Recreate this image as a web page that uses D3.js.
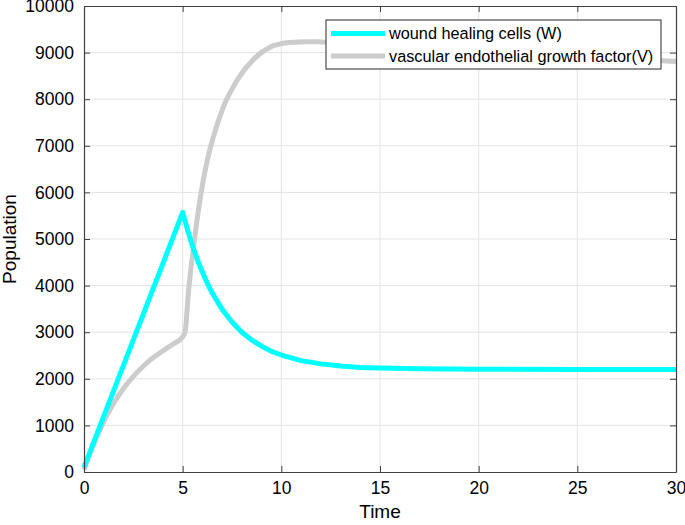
<!DOCTYPE html>
<html>
<head>
<meta charset="utf-8">
<script src="https://cdn.jsdelivr.net/npm/d3@7"></script>
<style>
  body { margin: 0; background: #fff; }
  text { font-family: "Liberation Sans", Arial, sans-serif; fill: #000; }
</style>
</head>
<body>
<div id="viz"></div>
<script>
// wound healing cells (W)
const timeW = [0, 5, 5.25, 5.5, 5.75, 6, 6.25, 6.5, 7, 7.5, 8, 8.5, 9, 9.5, 10, 11, 12, 13, 14, 15, 17, 20, 25, 30];
const valuesW = [100, 5570, 5190, 4850, 4550, 4290, 4050, 3840, 3490, 3220, 3000, 2830, 2700, 2590, 2510, 2390, 2320, 2275, 2245, 2230, 2215, 2205, 2200, 2200];

// vascular endothelial growth factor (V)
const timeV = [0, 0.5, 1, 1.5, 2, 2.5, 3, 3.5, 4, 4.5, 5, 5.12, 5.3, 5.55, 5.9, 6.2, 6.55, 7.05, 7.75, 8.6, 9.4, 10.4, 11.4, 12, 14, 16, 18, 20, 22, 24, 26, 28, 30];
const valuesV = [50, 600, 1080, 1470, 1790, 2050, 2270, 2450, 2600, 2740, 2900, 3000, 3900, 4830, 5900, 6600, 7180, 7820, 8400, 8860, 9110, 9215, 9235, 9230, 9190, 9140, 9090, 9040, 8990, 8940, 8890, 8850, 8810];

const xTicks = [0, 5, 10, 15, 20, 25, 30];
const yTicks = [0, 1000, 2000, 3000, 4000, 5000, 6000, 7000, 8000, 9000, 10000];
const legendLabels = ['wound healing cells (W)', 'vascular endothelial growth factor(V)'];
const colors = ['#00ffff', '#cccccc'];

const width = 685, height = 525;
const margin = {top: 6, left: 84, bottom: 53, right: 9};
const innerW = width - margin.left - margin.right;
const innerH = height - margin.top - margin.bottom;

const svg = d3.select('#viz')
  .append('svg')
  .attr('width', width)
  .attr('height', height);

const x = d3.scaleLinear().domain([0, 30]).range([0, innerW]);
const y = d3.scaleLinear().domain([0, 10000]).range([innerH, 0]);

const g = svg.append('g')
  .attr('transform', `translate(${margin.left},${margin.top})`);

// grid
g.append('g').selectAll('line')
  .data(xTicks.slice(1, -1))
  .enter().append('line')
  .attr('x1', d => x(d)).attr('x2', d => x(d))
  .attr('y1', 0).attr('y2', innerH)
  .attr('stroke', '#e3e3e3').attr('stroke-width', 1);
g.append('g').selectAll('line')
  .data(yTicks.slice(1, -1))
  .enter().append('line')
  .attr('y1', d => y(d)).attr('y2', d => y(d))
  .attr('x1', 0).attr('x2', innerW)
  .attr('stroke', '#e3e3e3').attr('stroke-width', 1);

// curves
svg.append('clipPath').attr('id', 'plot')
  .append('rect')
  .attr('x', -2).attr('y', 0)
  .attr('width', innerW + 2).attr('height', innerH + 2);

const lineV = d3.line()
  .x(d => x(d[0]))
  .y(d => y(d[1]))
  .curve(d3.curveMonotoneX);

// W has a sharp peak at t=5, keep it straight between readings
const lineW = d3.line()
  .x(d => x(d[0]))
  .y(d => y(d[1]));

g.append('path')
  .datum(d3.zip(timeV, valuesV))
  .attr('clip-path', 'url(#plot)')
  .attr('d', lineV)
  .attr('fill', 'none')
  .attr('stroke', colors[1])
  .attr('stroke-width', 5)
  .attr('stroke-linejoin', 'round');
g.append('path')
  .datum(d3.zip(timeW, valuesW))
  .attr('clip-path', 'url(#plot)')
  .attr('d', lineW)
  .attr('fill', 'none')
  .attr('stroke', colors[0])
  .attr('stroke-width', 5)
  .attr('stroke-linejoin', 'round');

// axes box with inward ticks
const axisColor = '#404040';
const tickLen = 6;

const xBottom = d3.axisBottom(x).tickValues(xTicks).tickSizeInner(-tickLen).tickSizeOuter(0).tickPadding(10).tickFormat(d3.format('d'));
const xTop = d3.axisTop(x).tickValues(xTicks).tickSizeInner(-tickLen).tickSizeOuter(0).tickFormat('');
const yLeft = d3.axisLeft(y).tickValues(yTicks).tickSizeInner(-tickLen).tickSizeOuter(0).tickPadding(10).tickFormat(d3.format('d'));
const yRight = d3.axisRight(y).tickValues(yTicks).tickSizeInner(-tickLen).tickSizeOuter(0).tickFormat('');

function styleAxis(sel) {
  sel.select('.domain').attr('stroke', axisColor).attr('stroke-width', 1.2);
  sel.selectAll('.tick line').attr('stroke', axisColor).attr('stroke-width', 1);
  sel.selectAll('.tick text')
    .attr('font-family', '"Liberation Sans", Arial, sans-serif')
    .attr('font-size', 17.5)
    .attr('fill', '#000');
}

g.append('g').attr('transform', `translate(0,${innerH})`).call(xBottom).call(styleAxis);
g.append('g').call(xTop).call(styleAxis);
g.append('g').call(yLeft).call(styleAxis);
g.append('g').attr('transform', `translate(${innerW},0)`).call(yRight).call(styleAxis);

// axis labels
svg.append('text')
  .attr('x', margin.left + innerW / 2)
  .attr('y', 518)
  .attr('text-anchor', 'middle')
  .attr('font-size', 19)
  .text('Time');

svg.append('text')
  .attr('transform', `translate(16,${margin.top + innerH / 2}) rotate(-90)`)
  .attr('text-anchor', 'middle')
  .attr('font-size', 19)
  .text('Population');

// legend
const legend = svg.append('g').attr('transform', 'translate(326,20)');
legend.append('rect')
  .attr('width', 335).attr('height', 49)
  .attr('fill', '#fff')
  .attr('stroke', '#262626')
  .attr('stroke-width', 1);

legendLabels.forEach((label, i) => {
  const row = legend.append('g').attr('transform', `translate(0,${13.5 + i * 22.5})`);
  row.append('line')
    .attr('x1', 5).attr('x2', 59)
    .attr('stroke', colors[i])
    .attr('stroke-width', 5);
  row.append('text')
    .attr('x', 63)
    .attr('dy', '0.35em')
    .attr('font-size', 16.3)
    .text(label);
});
</script>
</body>
</html>
